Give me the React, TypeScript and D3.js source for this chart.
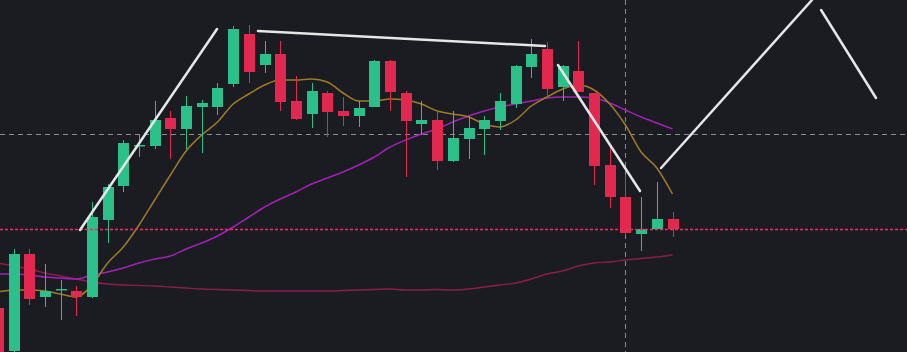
import React, { useEffect, useRef } from "react";
import { select, scaleLinear, line, curveMonotoneX } from "d3";

const width = 907;
const height = 352;

// candle i (index 0 is cut off at the left edge)
const opens = [
  24.4, 20.1, 29.8, 25.5, 26.25, 26.1, 25.5, 33.2, 36.6, 40.65, 40.6, 43.4, 42.3, 44.5, 44.5,
  46.8, 51.8, 48.7, 49.8, 45.1, 43.8, 45.9, 44.1, 43.6, 44.5, 49.1, 45.9, 42.8, 43.2, 39.1,
  41.3, 42.3, 43.1, 44.8, 48.5, 50.3, 46.5, 48.1, 45.9, 38.7, 35.5, 31.8, 32.3, 33.3,
];
const highs = [
  25.2, 30.3, 30.3, 28.8, 27.2, 26.6, 35.0, 36.8, 41.2, 41.7, 45.1, 44.1, 45.6, 45.2, 46.9,
  52.6, 52.7, 51.1, 51.1, 47.6, 46.9, 46.1, 45.5, 45.1, 49.2, 49.2, 46.1, 45.1, 44.1, 44.1,
  43.6, 43.6, 45.9, 48.7, 51.3, 51.0, 48.7, 51.1, 45.9, 40.7, 37.7, 35.5, 37.0, 34.0,
];
const lows = [
  18.7, 20.0, 24.7, 24.5, 23.2, 23.6, 25.4, 30.9, 36.0, 39.5, 40.3, 39.3, 40.3, 39.9, 43.7,
  46.5, 46.9, 47.9, 44.1, 43.2, 42.4, 41.5, 42.6, 42.5, 44.5, 44.1, 37.5, 41.7, 38.2, 39.0,
  39.3, 39.7, 42.2, 44.4, 47.4, 45.4, 45.1, 46.0, 36.7, 34.4, 31.7, 30.1, 32.3, 31.5,
];
const closes = [
  19.2, 29.8, 25.3, 26.1, 26.3, 25.5, 33.5, 36.5, 40.9, 40.7, 43.2, 42.3, 44.6, 44.9, 46.4,
  52.3, 48.0, 49.8, 45.0, 43.3, 46.1, 44.0, 43.6, 44.4, 49.1, 46.0, 43.1, 43.2, 39.1, 41.4,
  42.4, 43.2, 45.1, 48.6, 49.8, 46.3, 48.6, 46.0, 38.6, 35.5, 31.9, 32.3, 33.3, 32.3,
];

// moving averages as shown (short / mid / long)
const maShort = [
  26.0, 26.2, 26.2, 26.1, 25.8, 25.5, 26.7, 28.9, 30.5, 32.7, 35.2, 37.7, 40.1, 41.7, 43.0,
  44.8, 45.8, 46.7, 47.2, 47.2, 47.3, 47.0, 45.9, 45.1, 45.1, 45.3, 45.2, 44.8, 44.1, 43.8,
  43.5, 42.8, 42.5, 43.2, 44.6, 45.5, 46.3, 46.7, 46.2, 44.8, 42.7, 40.0, 38.4, 35.8,
];
const maMid = [
  27.8, 27.8, 27.7, 27.5, 27.4, 27.3, 27.7, 28.0, 28.4, 28.9, 29.3, 29.6, 30.3, 30.9, 31.6,
  32.5, 33.5, 34.5, 35.3, 36.0, 36.8, 37.4, 38.0, 38.7, 39.5, 40.5, 41.2, 41.8, 42.3, 43.0,
  43.6, 44.1, 44.5, 44.8, 45.1, 45.4, 45.5, 45.5, 45.4, 44.9, 44.2, 43.5, 42.9, 42.3,
];
const maLong = [
  28.9, 28.6, 28.3, 27.9, 27.6, 27.3, 27.0, 26.8, 26.7, 26.65, 26.6, 26.5, 26.4, 26.3, 26.25,
  26.2, 26.15, 26.1, 26.1, 26.1, 26.1, 26.1, 26.15, 26.2, 26.25, 26.3, 26.2, 26.2, 26.25, 26.2,
  26.3, 26.5, 26.7, 26.9, 27.3, 27.8, 28.1, 28.6, 28.9, 29.0, 29.2, 29.35, 29.5, 29.7,
];

// trend lines drawn on the chart: [index, price, index, price]
const drawings = [
  [5.24, 32.2, 13.97, 52.3],
  [16.58, 52.1, 34.87, 50.6],
  [35.7, 48.7, 40.93, 36.1],
  [42.27, 38.4, 51.89, 55.2],
  [52.47, 54.2, 55.97, 45.4],
];

const crossIndex = 40;
const crossPrice = 41.8;

const bg = "#1b1c21";
const up = "#2bbf8a";
const down = "#e3284f";

const App = () => {
  const svgRef = useRef(null);

  useEffect(() => {
    const svg = select(svgRef.current);
    svg.selectAll("*").remove();

    const x = scaleLinear().domain([1, 43]).range([13.5, 672.5]);
    const y = scaleLinear().domain([20, 55.2]).range([352, 0]);
    const bodyW = 11;

    svg.append("rect").attr("width", width).attr("height", height).attr("fill", bg);

    // crosshair
    svg
      .append("line")
      .attr("x1", 0)
      .attr("x2", width)
      .attr("y1", Math.round(y(crossPrice)) + 0.5)
      .attr("y2", Math.round(y(crossPrice)) + 0.5)
      .attr("stroke", "#8a8b91")
      .attr("stroke-dasharray", "5 4")
      .attr("shape-rendering", "crispEdges");
    svg
      .append("line")
      .attr("x1", Math.round(x(crossIndex)) + 0.5)
      .attr("x2", Math.round(x(crossIndex)) + 0.5)
      .attr("y1", 0)
      .attr("y2", height)
      .attr("stroke", "#8a8b91")
      .attr("stroke-dasharray", "5 4")
      .attr("shape-rendering", "crispEdges");

    const maLine = (vals, color, w) => {
      const gen = line()
        .x((d, i) => x(i))
        .y((d) => y(d))
        .curve(curveMonotoneX);
      svg
        .append("path")
        .datum(vals)
        .attr("fill", "none")
        .attr("stroke", color)
        .attr("stroke-width", w)
        .attr("d", gen);
    };
    maLine(maLong, "#8a1d4c", 1.4);
    maLine(maMid, "#a022b4", 1.5);
    maLine(maShort, "#9c7d24", 1.5);

    const candles = opens.map((o, i) => ({
      i,
      o,
      h: highs[i],
      l: lows[i],
      c: closes[i],
    }));

    const g = svg.append("g");
    const cg = g
      .selectAll("g")
      .data(candles)
      .join("g")
      .attr("fill", (d) => (d.c >= d.o ? up : down))
      .attr("stroke", (d) => (d.c >= d.o ? up : down));
    cg.append("line")
      .attr("x1", (d) => Math.round(x(d.i)) + 0.5)
      .attr("x2", (d) => Math.round(x(d.i)) + 0.5)
      .attr("y1", (d) => y(d.h))
      .attr("y2", (d) => y(d.l))
      .attr("stroke-width", 1);
    cg.append("rect")
      .attr("x", (d) => Math.round(x(d.i)) - (bodyW - 1) / 2)
      .attr("width", bodyW)
      .attr("y", (d) => y(Math.max(d.o, d.c)))
      .attr("height", (d) => Math.max(1.5, Math.abs(y(d.o) - y(d.c))))
      .attr("stroke", "none");

    // last price line
    const last = closes[closes.length - 1];
    svg
      .append("line")
      .attr("x1", 0)
      .attr("x2", width)
      .attr("y1", Math.round(y(last)) + 0.5)
      .attr("y2", Math.round(y(last)) + 0.5)
      .attr("stroke", "#f02c62")
      .attr("stroke-width", 1.6)
      .attr("stroke-dasharray", "3 2");

    // trend lines
    svg
      .selectAll(".trend")
      .data(drawings)
      .join("line")
      .attr("class", "trend")
      .attr("x1", (d) => x(d[0]))
      .attr("y1", (d) => y(d[1]))
      .attr("x2", (d) => x(d[2]))
      .attr("y2", (d) => y(d[3]))
      .attr("stroke", "#e6e6e8")
      .attr("stroke-width", 2.5)
      .attr("stroke-linecap", "round");
  }, []);

  return (
    <div style={{ position: "fixed", left: 0, top: 0, width, height, background: bg }}>
      <svg ref={svgRef} width={width} height={height} style={{ display: "block" }} />
    </div>
  );
};

export default App;
